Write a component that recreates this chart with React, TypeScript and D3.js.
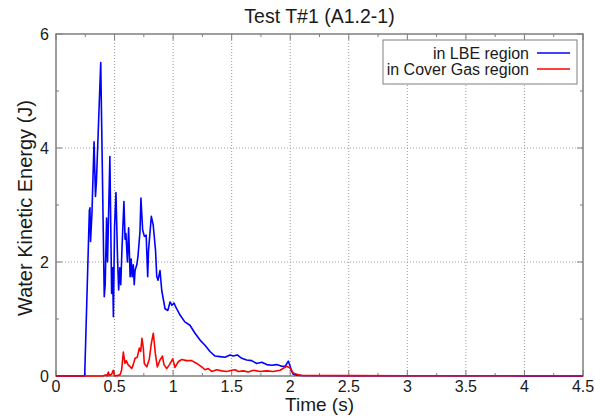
import React from "react";
import * as d3 from "d3";

const title = "Test T#1 (A1.2-1)";
const xLabel = "Time (s)";
const yLabel = "Water Kinetic Energy (J)";
const xTicks = [0, 0.5, 1, 1.5, 2, 2.5, 3, 3.5, 4, 4.5];
const xTickLabels = ["0", "0.5", "1", "1.5", "2", "2.5", "3", "3.5", "4", "4.5"];
const yTicks = [0, 2, 4, 6];
const seriesNames = ["in LBE region", "in Cover Gas region"];
const seriesColors = ["#0000ff", "#ff0000"];

const blueTime = [0, 0.245, 0.285, 0.29, 0.295, 0.307, 0.325, 0.337, 0.345, 0.382, 0.412, 0.42, 0.432, 0.44, 0.46, 0.475, 0.483, 0.49, 0.5, 0.512, 0.525, 0.535, 0.545, 0.553, 0.563, 0.58, 0.59, 0.597, 0.61, 0.62, 0.633, 0.642, 0.65, 0.66, 0.668, 0.675, 0.69, 0.7, 0.717, 0.725, 0.74, 0.755, 0.77, 0.783, 0.79, 0.814, 0.83, 0.85, 0.86, 0.871, 0.888, 0.903, 0.931, 0.955, 0.974, 0.99, 1.008, 1.02, 1.059, 1.1, 1.144, 1.187, 1.23, 1.272, 1.315, 1.358, 1.4, 1.443, 1.486, 1.514, 1.548, 1.586, 1.628, 1.671, 1.714, 1.757, 1.8, 1.842, 1.885, 1.927, 1.956, 1.984, 1.998, 2.013, 2.026, 2.055, 2.1, 2.5, 3, 3.5, 4, 4.5];
const blueEnergy = [0, 0, 2.91, 2.95, 2.36, 2.86, 4.11, 3.15, 3.4, 5.5, 1.39, 1.6, 2.77, 2.0, 3.85, 1.45, 1.9, 1.04, 2.62, 3.22, 2.1, 1.51, 1.9, 1.6, 2.21, 3.06, 2.4, 2.5, 2.0, 2.6, 1.74, 2.05, 1.74, 1.95, 1.6, 1.85, 1.95, 2.1, 2.53, 3.12, 2.56, 2.45, 2.47, 1.74, 2.2, 2.8, 2.65, 2.2, 1.75, 1.68, 1.85, 1.5, 1.18, 1.15, 1.3, 1.24, 1.28, 1.22, 1.07, 0.95, 0.89, 0.75, 0.63, 0.54, 0.43, 0.35, 0.34, 0.33, 0.37, 0.35, 0.37, 0.31, 0.28, 0.27, 0.22, 0.24, 0.2, 0.19, 0.2, 0.17, 0.17, 0.26, 0.18, 0.08, 0.03, 0.015, 0.008, 0.005, 0.004, 0.004, 0.003, 0.003];

const redTime = [0, 0.4, 0.427, 0.437, 0.447, 0.455, 0.475, 0.489, 0.497, 0.504, 0.547, 0.56, 0.575, 0.589, 0.6, 0.615, 0.63, 0.646, 0.66, 0.675, 0.694, 0.711, 0.723, 0.734, 0.746, 0.754, 0.775, 0.797, 0.814, 0.831, 0.848, 0.865, 0.888, 0.909, 0.922, 0.945, 0.969, 0.997, 1.016, 1.044, 1.073, 1.116, 1.159, 1.202, 1.244, 1.272, 1.3, 1.33, 1.372, 1.415, 1.458, 1.5, 1.529, 1.557, 1.6, 1.642, 1.685, 1.742, 1.8, 1.856, 1.913, 1.97, 1.998, 2.027, 2.07, 2.1, 2.5, 3, 3.5, 4, 4.5];
const redEnergy = [0, 0, 0.02, 0, 0.07, 0.01, 0.03, 0.1, 0.02, 0, 0.02, 0.1, 0.42, 0.22, 0.27, 0.2, 0.17, 0.13, 0.2, 0.31, 0.33, 0.49, 0.43, 0.66, 0.48, 0.22, 0.16, 0.3, 0.57, 0.75, 0.4, 0.16, 0.28, 0.35, 0.2, 0.13, 0.2, 0.3, 0.15, 0.25, 0.29, 0.27, 0.27, 0.22, 0.16, 0.11, 0.13, 0.08, 0.11, 0.09, 0.08, 0.1, 0.11, 0.08, 0.09, 0.07, 0.1, 0.08, 0.09, 0.08, 0.1, 0.17, 0.14, 0.05, 0.02, 0.01, 0.006, 0.005, 0.004, 0.004, 0.004];

const W = 595;
const H = 417;
const L = 56, R = 583, T = 34, B = 376;
const FONT = "'Liberation Sans', Arial, Helvetica, sans-serif";
const FRAME = "#7f7f7f";
const TEXT = "#1a1a1a";

export default function App() {
  const x = d3.scaleLinear().domain([0, 4.5]).range([L, R]);
  const y = d3.scaleLinear().domain([0, 6]).range([B, T]);
  const line = d3
    .line<[number, number]>()
    .x((d) => x(d[0]))
    .y((d) => y(d[1]));
  const blue: [number, number][] = blueTime.map((t, i) => [t, blueEnergy[i]]);
  const red: [number, number][] = redTime.map((t, i) => [t, redEnergy[i]]);
  const xMinor = d3.range(0, 4.5001, 0.25);
  const yMinor = d3.range(0, 6.001, 1);

  return (
    <svg width={W} height={H} style={{ position: "absolute", left: 0, top: 0, background: "#fff" }} fontFamily={FONT}>
      <rect x={0} y={0} width={W} height={H} fill="#fff" />
      {xTicks.slice(1, -1).map((t) => (
        <line key={"gx" + t} x1={x(t)} x2={x(t)} y1={T} y2={B} stroke="#9a9a9a" strokeWidth={1} strokeDasharray="1,2" />
      ))}
      {yTicks.slice(1, -1).map((v) => (
        <line key={"gy" + v} x1={L} x2={R} y1={y(v)} y2={y(v)} stroke="#9a9a9a" strokeWidth={1} strokeDasharray="1,2" />
      ))}
      {xMinor.map((t, i) => {
        const len = i % 2 === 0 ? 6 : 3;
        return (
          <g key={"tx" + i}>
            <line x1={x(t)} x2={x(t)} y1={B} y2={B - len} stroke={FRAME} strokeWidth={1} />
            <line x1={x(t)} x2={x(t)} y1={T} y2={T + len} stroke={FRAME} strokeWidth={1} />
          </g>
        );
      })}
      {yMinor.map((v, i) => {
        const len = i % 2 === 0 ? 6 : 3;
        return (
          <g key={"ty" + i}>
            <line x1={L} x2={L + len} y1={y(v)} y2={y(v)} stroke={FRAME} strokeWidth={1} />
            <line x1={R} x2={R - len} y1={y(v)} y2={y(v)} stroke={FRAME} strokeWidth={1} />
          </g>
        );
      })}
      <rect x={L} y={T} width={R - L} height={B - T} fill="none" stroke={FRAME} strokeWidth={1.5} />
      <path d={line(blue) || ""} fill="none" stroke={seriesColors[0]} strokeWidth={1.6} strokeLinejoin="round" />
      <path d={line(red) || ""} fill="none" stroke={seriesColors[1]} strokeWidth={1.6} strokeLinejoin="round" />
      {xTicks.map((t, i) => (
        <text key={"xl" + t} x={x(t)} y={392} textAnchor="middle" fontSize={16} fill={TEXT}>
          {xTickLabels[i]}
        </text>
      ))}
      {yTicks.map((v) => (
        <text key={"yl" + v} x={49} y={y(v) + 6} textAnchor="end" fontSize={16} fill={TEXT}>
          {v}
        </text>
      ))}
      <text x={(L + R) / 2} y={23} textAnchor="middle" fontSize={19.5} fill={TEXT}>
        {title}
      </text>
      <text x={(L + R) / 2} y={411} textAnchor="middle" fontSize={19} fill={TEXT}>
        {xLabel}
      </text>
      <text transform={`translate(32,208) rotate(-90)`} textAnchor="middle" fontSize={20} fill={TEXT}>
        {yLabel}
      </text>
      <rect x={383} y={40} width={194} height={44} fill="#fff" stroke={FRAME} strokeWidth={1} />
      {seriesNames.map((n, i) => (
        <g key={n}>
          <text x={529} y={53 + i * 16 + 5.5} textAnchor="end" fontSize={16} fill={TEXT}>
            {n}
          </text>
          <line x1={537} x2={570} y1={53 + i * 16} y2={53 + i * 16} stroke={seriesColors[i]} strokeWidth={1.6} />
        </g>
      ))}
    </svg>
  );
}
